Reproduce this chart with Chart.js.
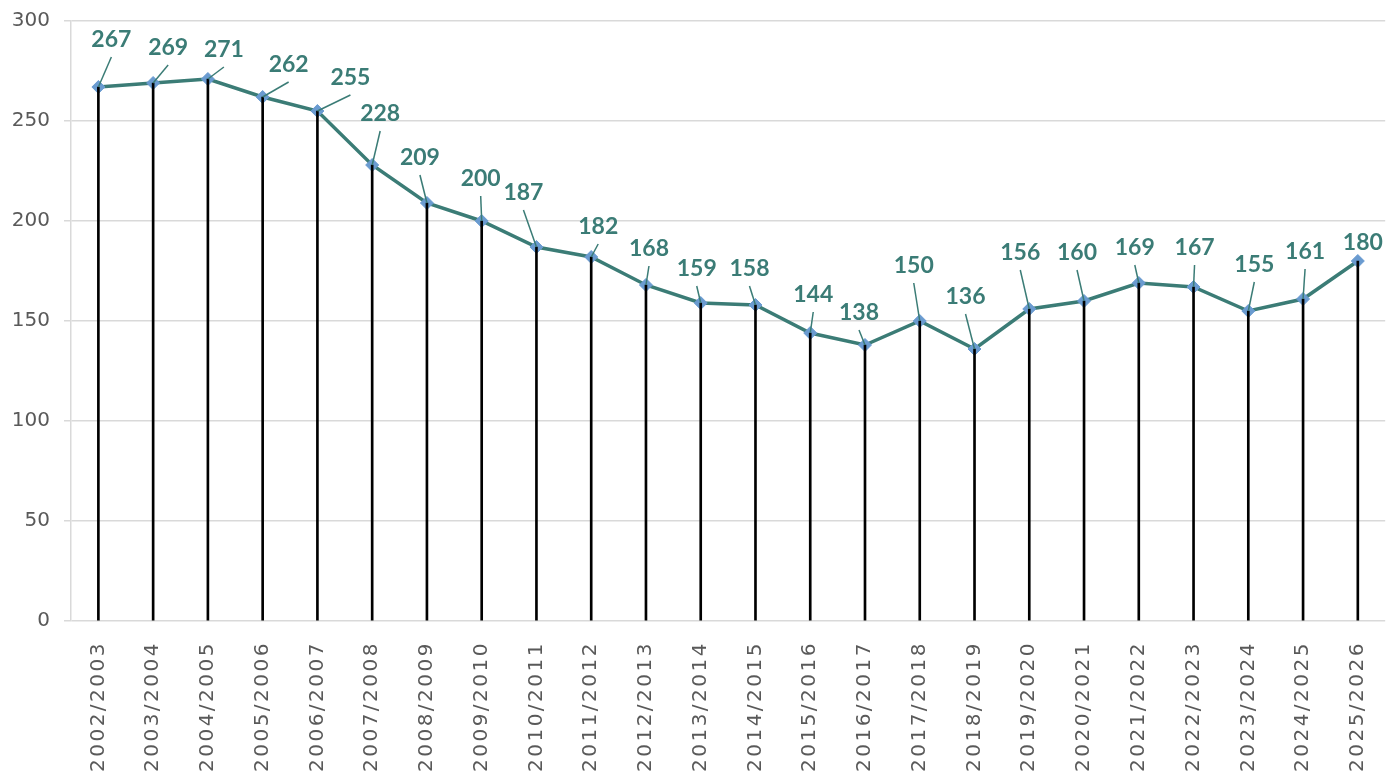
<!DOCTYPE html>
<html>
<head>
<meta charset="utf-8">
<script src="https://cdn.jsdelivr.net/npm/chart.js@4/dist/chart.umd.min.js"></script>
<style>
  html, body { margin: 0; padding: 0; background: #ffffff; }
  #wrap { width: 1394px; height: 778px; position: relative; }
</style>
</head>
<body>
<div id="wrap"><canvas id="chart"></canvas></div>
<script>
// Seasons on the category axis
const seasons = [
  '2002/2003', '2003/2004', '2004/2005', '2005/2006', '2006/2007', '2007/2008',
  '2008/2009', '2009/2010', '2010/2011', '2011/2012', '2012/2013', '2013/2014',
  '2014/2015', '2015/2016', '2016/2017', '2017/2018', '2018/2019', '2019/2020',
  '2020/2021', '2021/2022', '2022/2023', '2023/2024', '2024/2025', '2025/2026'
];

// Value per season
const values = [
  267, 269, 271, 262, 255, 228, 209, 200, 187, 182, 168, 159,
  158, 144, 138, 150, 136, 156, 160, 169, 167, 155, 161, 180
];

// Value axis range
const yMin = 0;
const yMax = 300;
const yStep = 50;

// Where each value label sits relative to its point (px)
const labelDx = [13, 15, 16, 26, 33, 8, -7, -1, -13, 7, 3, -4, -6, 3, -6, -6, -9, -9, -7, -4, 1, 6, 2, 5];
const labelDy = [-47, -35, -29, -32, -33, -51, -45, -42, -54, -30, -36, -34, -36, -38, -32, -55, -52, -56, -48, -35, -39, -46, -47, -18];

const TEAL = '#3b7c76';
const MARKER = '#6a9bd0';
const AXIS_TEXT = '#595959';
const GRID = '#d9d9d9';

// Value labels with leader lines, drawn over the datasets
const valueLabels = {
  id: 'valueLabels',
  afterDatasetsDraw(chart) {
    const ctx = chart.ctx;
    const meta = chart.getDatasetMeta(1);
    ctx.save();
    ctx.font = 'bold 23px Lato';
    ctx.fillStyle = TEAL;
    ctx.strokeStyle = TEAL;
    ctx.lineWidth = 1.5;
    ctx.textAlign = 'center';
    ctx.textBaseline = 'middle';
    meta.data.forEach((pt, i) => {
      const lx = pt.x + labelDx[i];
      const ly = pt.y + labelDy[i];
      const endY = ly + 17;
      if (pt.y - endY > 3) {
        ctx.beginPath();
        ctx.moveTo(pt.x, pt.y);
        ctx.lineTo(lx, endY);
        ctx.stroke();
      }
      ctx.fillText(String(values[i]), lx, ly);
    });
    ctx.restore();
    // wider tracking for the season labels drawn next
    ctx.letterSpacing = '2.5px';
  },
  afterDraw(chart) {
    chart.ctx.letterSpacing = '0px';
  }
};

new Chart(document.getElementById('chart'), {
  data: {
    labels: seasons,
    datasets: [
      {
        // drop lines from each point to the axis
        type: 'bar',
        data: values,
        backgroundColor: '#000000',
        barThickness: 2,
        order: 0
      },
      {
        type: 'line',
        data: values,
        borderColor: TEAL,
        borderWidth: 3.5,
        tension: 0,
        pointStyle: 'rectRot',
        pointRadius: 6.5,
        pointBackgroundColor: MARKER,
        pointBorderColor: MARKER,
        pointBorderWidth: 1,
        order: 1
      }
    ]
  },
  options: {
    responsive: true,
    maintainAspectRatio: false,
    animation: false,
    layout: { padding: { top: 21, right: 8.5, left: 0, bottom: 0 } },
    plugins: {
      legend: { display: false },
      tooltip: { enabled: false },
      title: { display: false }
    },
    scales: {
      x: {
        offset: true,
        grid: { display: false },
        border: { display: false },
        ticks: {
          z: 1,
          minRotation: 90,
          maxRotation: 90,
          autoSkip: false,
          padding: 12,
          color: AXIS_TEXT,
          font: { family: 'DejaVu Sans', size: 20 }
        },
        afterFit(scale) { scale.height = 157; }
      },
      y: {
        min: yMin,
        max: yMax,
        grid: { color: GRID, lineWidth: 1.5, tickLength: 7 },
        border: { display: true, color: GRID, width: 1.5 },
        ticks: {
          stepSize: yStep,
          padding: 14,
          color: AXIS_TEXT,
          font: { family: 'DejaVu Sans', size: 20 }
        },
        afterFit(scale) {
          scale.width = 71;
          scale.paddingTop = 0;
          scale.paddingBottom = 0;
        }
      }
    }
  },
  plugins: [valueLabels]
});
</script>
</body>
</html>
